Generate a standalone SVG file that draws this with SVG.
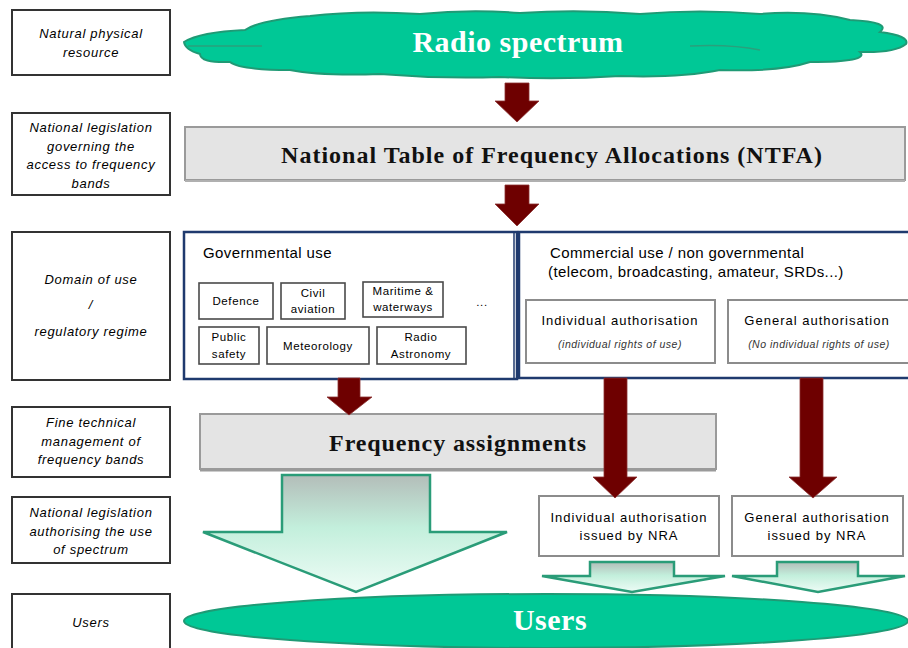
<svg xmlns="http://www.w3.org/2000/svg" width="908" height="648" viewBox="0 0 908 648">
<defs>
<style>
.lbl{fill:#fff;stroke:#333;stroke-width:2}
.lt{font-family:"Liberation Sans",Arial,sans-serif;font-style:italic;font-size:13px;letter-spacing:0.7px;fill:#000;text-anchor:middle}
.bar{fill:#e4e4e4;stroke:#9a9a9a;stroke-width:2}
.bart{font-family:"Liberation Serif","Times New Roman",serif;font-weight:bold;fill:#111;text-anchor:middle}
.dom{fill:#fff;stroke:#1f3a6e;stroke-width:2.5}
.sb{fill:#fff;stroke:#4a4a4a;stroke-width:1.6}
.st{font-family:"Liberation Sans",Arial,sans-serif;font-size:11.5px;letter-spacing:0.6px;fill:#000;text-anchor:middle}
.hd{font-family:"Liberation Sans",Arial,sans-serif;font-size:15px;letter-spacing:0.4px;fill:#000}
.ab{fill:#fff;stroke:#8c8c8c;stroke-width:2}
.at{font-family:"Liberation Sans",Arial,sans-serif;font-size:13px;letter-spacing:1px;fill:#000;text-anchor:middle}
.ai{font-family:"Liberation Sans",Arial,sans-serif;font-style:italic;font-size:10.5px;letter-spacing:0.5px;fill:#333;text-anchor:middle}
.red{fill:#6e0000;stroke:#8a3030;stroke-width:0.8}
.grn{fill:url(#g);stroke:#2a9c78;stroke-width:2.5}
.cloud{fill:#00c896;stroke:#1f9a75;stroke-width:2}
.ct{font-family:"Liberation Serif","Times New Roman",serif;font-weight:bold;fill:#fff;text-anchor:middle}
</style>
<linearGradient id="g" x1="0" y1="0" x2="0" y2="1">
<stop offset="0" stop-color="#b3bdb9"/>
<stop offset="0.45" stop-color="#c3efdc"/>
<stop offset="1" stop-color="#eefcf6"/>
</linearGradient>
</defs>
<rect width="908" height="648" fill="#fff"/>

<!-- left column labels -->
<g id="lbl-natural">
<rect class="lbl" x="12" y="10" width="158" height="65"/>
<text class="lt" x="91" y="38">Natural physical</text>
<text class="lt" x="91" y="57">resource</text>
</g>
<g id="lbl-legislation">
<rect class="lbl" x="12" y="113" width="158" height="82"/>
<text class="lt" x="91" y="132">National legislation</text>
<text class="lt" x="91" y="151">governing the</text>
<text class="lt" x="91" y="169">access to frequency</text>
<text class="lt" x="91" y="188">bands</text>
</g>
<g id="lbl-domain">
<rect class="lbl" x="12" y="232" width="158" height="148"/>
<text class="lt" x="91" y="284">Domain of use</text>
<text class="lt" x="91" y="309">/</text>
<text class="lt" x="91" y="336">regulatory regime</text>
</g>
<g id="lbl-fine">
<rect class="lbl" x="12" y="407" width="158" height="70"/>
<text class="lt" x="91" y="427">Fine technical</text>
<text class="lt" x="91" y="446">management of</text>
<text class="lt" x="91" y="464">frequency bands</text>
</g>
<g id="lbl-authorising">
<rect class="lbl" x="12" y="497" width="158" height="66"/>
<text class="lt" x="91" y="517">National legislation</text>
<text class="lt" x="91" y="536">authorising the use</text>
<text class="lt" x="91" y="554">of spectrum</text>
</g>
<g id="lbl-users">
<rect class="lbl" x="12" y="594" width="158" height="60"/>
<text class="lt" x="91" y="627">Users</text>
</g>

<!-- Radio spectrum cloud -->
<g id="radio-spectrum">
<path class="cloud" d="M184,42 Q200,32 245,30 Q260,20 310,16 Q360,10 420,14 Q470,9 520,13 Q580,9 640,14 Q700,9 760,14 Q810,10 850,20 Q892,22 880,32 Q910,36 906,44 Q895,53 860,52 Q870,62 810,62 Q780,72 720,70 Q680,78 620,76 Q560,80 500,77 Q440,79 380,74 Q320,76 290,70 Q240,70 230,62 Q200,63 200,54 Q185,50 184,42 Z"/>
<path d="M188,46 H262 M690,46 Q730,44 760,50" fill="none" stroke="#2aa07c" stroke-width="1.5"/>
<text class="ct" x="518" y="52" font-size="30" letter-spacing="0.5">Radio spectrum</text>
</g>

<!-- NTFA -->
<g id="ntfa">
<rect class="bar" x="185" y="127" width="720" height="53"/>
<line x1="185" y1="181" x2="905" y2="181" stroke="#b0b0b0" stroke-width="2"/>
<text class="bart" x="552" y="163" font-size="24" letter-spacing="1">National Table of Frequency Allocations (NTFA)</text>
</g>

<!-- Governmental use -->
<g id="governmental">
<rect class="dom" x="184" y="232" width="333" height="147"/>
<text class="hd" x="203" y="258">Governmental use</text>
<g id="gov-defence"><rect class="sb" x="199" y="283" width="74" height="36"/><text class="st" x="236" y="305">Defence</text></g>
<g id="gov-civil"><rect class="sb" x="281" y="283" width="64" height="36"/><text class="st" x="313" y="297">Civil</text><text class="st" x="313" y="313">aviation</text></g>
<g id="gov-maritime"><rect class="sb" x="363" y="282" width="80" height="35"/><text class="st" x="403" y="295">Maritime &amp;</text><text class="st" x="403" y="311">waterways</text></g>
<text class="st" x="482" y="306">...</text>
<g id="gov-public"><rect class="sb" x="199" y="327" width="60" height="37"/><text class="st" x="229" y="341">Public</text><text class="st" x="229" y="358">safety</text></g>
<g id="gov-meteo"><rect class="sb" x="267" y="327" width="102" height="37"/><text class="st" x="318" y="350">Meteorology</text></g>
<g id="gov-radioastro"><rect class="sb" x="377" y="327" width="89" height="37"/><text class="st" x="421" y="341">Radio</text><text class="st" x="421" y="358">Astronomy</text></g>
</g>

<!-- Commercial use -->
<g id="commercial">
<rect class="dom" x="519" y="232" width="392" height="146"/>
<line x1="514" y1="232" x2="514" y2="379" stroke="#1f3a6e" stroke-width="1.5"/>
<text class="hd" x="550" y="258">Commercial use / non governmental</text>
<text class="hd" x="548" y="277">(telecom, broadcasting, amateur, SRDs...)</text>
<g id="com-individual"><rect class="ab" x="526" y="300" width="189" height="63"/><text class="at" x="620" y="325">Individual authorisation</text><text class="ai" x="620" y="348">(individual rights of use)</text></g>
<g id="com-general"><rect class="ab" x="728" y="300" width="184" height="63"/><text class="at" x="817" y="325">General authorisation</text><text class="ai" x="819" y="348">(No individual rights of use)</text></g>
</g>

<!-- Frequency assignments -->
<g id="freq-assignments">
<rect class="bar" x="200" y="414" width="516" height="55"/>
<line x1="200" y1="470" x2="716" y2="470" stroke="#9a9a9a" stroke-width="3"/>
<text class="bart" x="458" y="451" font-size="24" letter-spacing="0.9">Frequency assignments</text>
</g>

<!-- issued boxes -->
<g id="issued-individual">
<rect class="ab" x="539" y="496" width="180" height="60"/>
<text class="at" x="629" y="522">Individual authorisation</text>
<text class="at" x="629" y="540">issued by NRA</text>
</g>
<g id="issued-general">
<rect class="ab" x="732" y="496" width="171" height="60"/>
<text class="at" x="817" y="522">General authorisation</text>
<text class="at" x="817" y="540">issued by NRA</text>
</g>

<!-- Users -->
<g id="users">
<ellipse class="cloud" cx="546" cy="621" rx="362" ry="27"/>
<text class="ct" x="550" y="630" font-size="30" letter-spacing="0.5">Users</text>
</g>

<!-- connectors -->
<g id="connectors">
<path class="red" d="M505,83 H529 V101 H539 L517,122 L495,101 H505 Z"/>
<path class="red" d="M505,185 H529 V204 H539 L517,226 L495,204 H505 Z"/>
<path class="red" d="M338,378 H360 V397 H372 L349,415 L327,397 H338 Z"/>
<path class="red" d="M604,378 H627 V477 H637 L615,498 L593,477 H604 Z"/>
<path class="red" d="M800,378 H823 V477 H837 L813,498 L789,477 H800 Z"/>
<path class="grn" d="M282,475 H430 V532 H507 L356,592 L203,532 H282 Z"/>
<path class="grn" d="M590,562 H674 V576 H725 L632,592 L542,576 H590 Z"/>
<path class="grn" d="M777,562 H858 V576 H905 L818,592 L732,576 H777 Z"/>
</g>
</svg>
